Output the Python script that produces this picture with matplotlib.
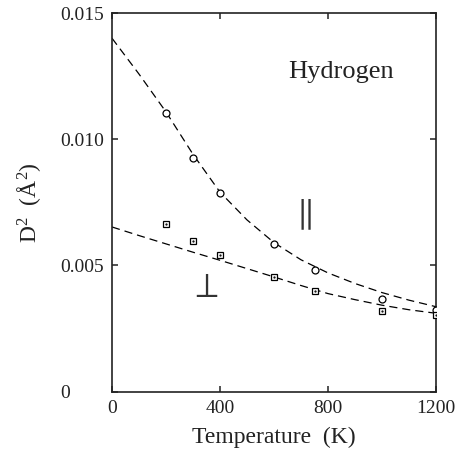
import matplotlib
matplotlib.use("Agg")
import matplotlib.pyplot as plt

plt.rcParams['font.family'] = ['Liberation Serif', 'DejaVu Serif']
plt.rcParams['mathtext.fontset'] = 'custom'
plt.rcParams['mathtext.rm'] = 'Liberation Serif'
plt.rcParams['mathtext.it'] = 'Liberation Serif:italic'

# measured points (temperature in K, D^2 in A^2)
temp = [200, 300, 400, 600, 750, 1000, 1200]
d2_par = [0.01105, 0.00925, 0.00785, 0.00585, 0.00483, 0.00368, 0.00322]
d2_perp = [0.00665, 0.00596, 0.00541, 0.00453, 0.00400, 0.00320, 0.00304]

# fitted curves, every 100 K
fit_temp = [0, 100, 200, 300, 400, 500, 600, 700, 800, 900, 1000, 1100, 1200]
fit_par = [0.01400, 0.01258, 0.01108, 0.00940, 0.00790, 0.00680, 0.00590,
           0.00522, 0.00470, 0.00428, 0.00392, 0.00362, 0.00336]
fit_perp = [0.00652, 0.00618, 0.00585, 0.00552, 0.00520, 0.00487, 0.00454,
            0.00420, 0.00388, 0.00364, 0.00342, 0.00324, 0.00310]

xticks = [0, 400, 800, 1200]
yticks = [0, 0.005, 0.010, 0.015]
yticklabels = ['0', '0.005', '0.010', '0.015']

fig = plt.figure(figsize=(4.55, 4.61), dpi=100)
ax = fig.add_axes([112 / 455, 1 - 391.5 / 461, 324 / 455, 378.5 / 461])

dash = dict(color='black', lw=0.9, dashes=(6.5, 4))
ax.plot(fit_temp, fit_par, **dash)
ax.plot(fit_temp, fit_perp, **dash)

ax.plot(temp, d2_par, 'o', ms=5, mfc='white', mec='black', mew=0.9, zorder=3)
ax.plot(temp, d2_perp, 's', ms=4.6, mfc='white', mec='black', mew=0.9, zorder=3)
ax.plot(temp, d2_perp, '.', ms=1.2, color='black', zorder=4)

ax.set_xlim(0, 1200)
ax.set_ylim(0, 0.015)
ax.set_xticks(xticks)
ax.set_xticklabels([str(t) for t in xticks])
ax.set_yticks(yticks)
ax.set_yticklabels(yticklabels)
for lab in ax.get_yticklabels():
    lab.set_horizontalalignment('left')

ax.tick_params(direction='in', length=4.5, width=1.1, top=True, right=True,
               labelsize=14, colors='#222222')
ax.tick_params(axis='y', pad=37)
ax.tick_params(axis='x', pad=6)
for s in ax.spines.values():
    s.set_linewidth(1.2)
    s.set_color('#222222')

ax.set_xlabel('Temperature  (K)', fontsize=17, labelpad=7, color='#222222')
ax.set_ylabel(r'D$^2$  (Å$^2$)', fontsize=17, labelpad=13, color='#222222')

ax.text(652, 0.01266, 'Hydrogen', fontsize=19, va='center', ha='left', color='#222222')
ax.text(702, 0.0070, r'$\parallel$', fontsize=25, va='center', ha='center',
        math_fontfamily='stix', color='#333333')
ax.text(338, 0.00408, r'$\perp$', fontsize=25, va='center', ha='center',
        math_fontfamily='stix', color='#333333')

fig.savefig('out.png', dpi=100)
